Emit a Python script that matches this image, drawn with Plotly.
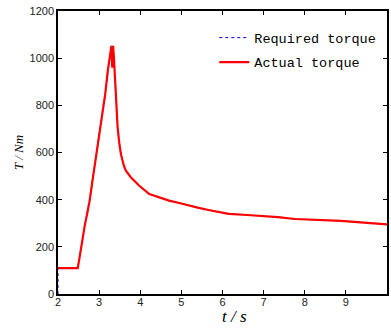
import plotly.graph_objects as go

# Data
t_actual = [2.0, 2.48, 2.52, 2.58, 2.65, 2.72, 2.77, 2.83, 2.89, 2.95, 3.02, 3.09, 3.15,
            3.21, 3.26, 3.30, 3.32, 3.34, 3.36, 3.39, 3.41, 3.45, 3.49, 3.53, 3.60, 3.65,
            3.77, 3.88, 3.97, 4.22, 4.45, 4.70, 4.95, 5.18, 5.42, 5.66, 5.9, 6.15, 6.6,
            7.11, 7.35, 7.76, 8.1, 8.48, 8.88, 9.2, 9.53, 9.8, 10.0]
torque_actual = [110, 110, 150, 220, 290, 350, 396, 470, 540, 620, 700, 790, 850,
                 946, 1000, 1052, 960, 1052, 1000, 900, 847, 706, 640, 593, 545, 523,
                 495, 475, 460, 424, 410, 396, 386, 375, 365, 356, 347, 340, 335,
                 330, 326, 318, 316, 314, 310, 306, 301, 298, 295]

t_required = [2.0] + t_actual
torque_required = [0] + torque_actual

x_ticks = [2, 3, 4, 5, 6, 7, 8, 9, 10]
y_ticks = [0, 200, 400, 600, 800, 1000, 1200]

fig = go.Figure()
fig.add_trace(go.Scatter(x=t_required, y=torque_required, mode="lines",
                         name="Required torque", legendgroup="req",
                         line=dict(color="#0000ff", width=1, dash="dot")))
fig.add_trace(go.Scatter(x=t_actual, y=torque_actual, mode="lines",
                         name="Actual torque", legendgroup="act",
                         line=dict(color="#ff0000", width=2.2)))

axis_common = dict(showgrid=False, zeroline=False, showline=True, linecolor="black",
                   linewidth=1.5, mirror="ticks", ticks="inside", ticklen=4,
                   tickcolor="black", tickfont=dict(family="Liberation Sans", size=11, color="#222"))

fig.update_layout(
    width=391, height=329,
    margin=dict(l=58, r=2, t=11, b=35),
    plot_bgcolor="white", paper_bgcolor="white",
    xaxis=dict(range=[2, 10], tickvals=x_ticks, ticktext=[str(v) for v in x_ticks],
               ticklabelstandoff=-3, **axis_common),
    yaxis=dict(range=[0, 1200], tickvals=y_ticks, ticktext=[str(v) for v in y_ticks],
               **axis_common),
    showlegend=True,
    legend=dict(x=0.475, y=0.96, xanchor="left", yanchor="top",
                bgcolor="rgba(0,0,0,0)", borderwidth=0, itemwidth=30,
                traceorder="grouped", tracegroupgap=4,
                font=dict(family="Liberation Mono", size=13.5, color="black")),
)

fig.add_annotation(text="<i>t / s</i>", xref="paper", yref="paper", x=0.535, y=-0.121,
                   xanchor="center", yanchor="bottom", showarrow=False,
                   font=dict(family="Liberation Serif", size=17, color="black"))
fig.add_annotation(text="<i>T / Nm</i>", xref="paper", yref="paper", x=-0.12, y=0.5,
                   xanchor="center", yanchor="middle", showarrow=False, textangle=-90,
                   font=dict(family="Liberation Serif", size=13, color="black"))

fig.write_html("out.html")
